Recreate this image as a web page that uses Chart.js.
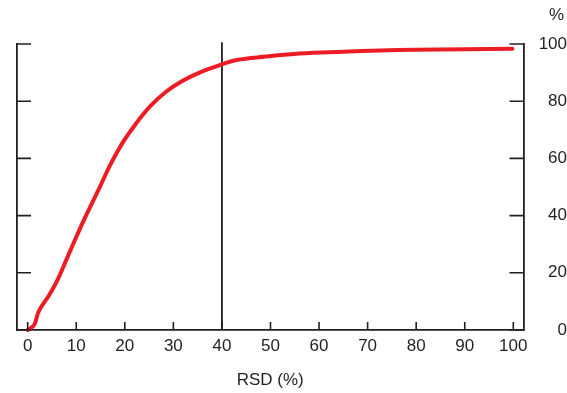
<!DOCTYPE html>
<html>
<head>
<meta charset="utf-8">
<script src="https://cdn.jsdelivr.net/npm/chart.js@4/dist/chart.umd.min.js"></script>
<style>
  html, body { margin: 0; padding: 0; background: #fff; }
  #wrap { width: 567px; height: 393px; position: relative; }
</style>
</head>
<body>
<div id="wrap"><canvas id="grafico" width="567" height="393"></canvas></div>
<script>
// curva acumulada (RSD x %)
const rsd = [0, 0.5, 1.4, 2.3, 4.5, 6.2, 8, 10.7, 12.8, 14.8, 16.9, 19.6, 22.4, 25.2, 28.5, 32, 35.5, 40, 43, 49, 56, 65, 72.5, 80, 90, 99.8];
const pct = [0, 0.5, 2, 6.6, 12.4, 17.7, 24.7, 35.2, 42.8, 49.8, 57.4, 65.6, 72.4, 78.2, 83.3, 87.2, 90.1, 92.9, 94.4, 95.6, 96.7, 97.3, 97.7, 98, 98.2, 98.3];
// linha vertical de corte
const corteX = [40, 40];
const corteY = [0, 100.6];
const xTicks = [0, 10, 20, 30, 40, 50, 60, 70, 80, 90, 100];
const yTicks = [0, 20, 40, 60, 80, 100];

const preto = '#231f20';

// ticks desenhados para dentro
const ticksDentro = {
    id: 'ticksDentro',
    afterDraw(chart) {
        const c = chart.ctx;
        const a = chart.chartArea;
        const sx = chart.scales.x;
        const sy = chart.scales.y;
        c.save();
        c.strokeStyle = preto;
        c.lineWidth = 1.6;
        c.beginPath();
        xTicks.forEach(v => {
            const px = sx.getPixelForValue(v);
            c.moveTo(px, a.bottom);
            c.lineTo(px, a.bottom - 8);
        });
        yTicks.forEach(v => {
            const py = sy.getPixelForValue(v);
            c.moveTo(a.left, py);
            c.lineTo(a.left + 14, py);
            c.moveTo(a.right, py);
            c.lineTo(a.right - 14, py);
        });
        c.stroke();
        c.restore();
    }
};

const ctx = document.getElementById('grafico').getContext('2d');
const grafico = new Chart(ctx, {
    type: 'line',
    data: {
        datasets: [{
            data: rsd.map((v, i) => ({ x: v, y: pct[i] })),
            borderColor: '#ec1c24',
            borderWidth: 4,
            pointRadius: 0,
            tension: 0.4,
            borderCapStyle: 'round',
            borderJoinStyle: 'round',
            clip: false
        }, {
            data: corteX.map((v, i) => ({ x: v, y: corteY[i] })),
            borderColor: preto,
            borderWidth: 1.8,
            pointRadius: 0,
            clip: false
        }]
    },
    options: {
        responsive: false,
        animation: false,
        layout: { padding: { top: 44, left: 0, right: 0, bottom: 0 } },
        plugins: {
            legend: { display: false },
            title: { display: false },
            tooltip: { enabled: false }
        },
        scales: {
            x: {
                type: 'linear',
                position: 'bottom',
                min: -2.2,
                max: 102.1,
                afterBuildTicks: s => { s.ticks = xTicks.map(v => ({ value: v })); },
                afterFit: s => { s.height = 63; },
                grid: { display: false, drawTicks: false },
                border: { display: true, color: preto, width: 1.8 },
                ticks: {
                    color: preto,
                    padding: 6,
                    maxRotation: 0,
                    font: { family: 'Liberation Sans, Arial, sans-serif', size: 17 }
                },
                title: {
                    display: true,
                    text: 'RSD (%)',
                    color: preto,
                    padding: { top: 0, bottom: 2 },
                    font: { family: 'Liberation Sans, Arial, sans-serif', size: 17 }
                }
            },
            yEsq: {
                type: 'linear',
                position: 'left',
                min: 0,
                max: 100,
                afterFit: s => { s.width = 17; },
                grid: { display: false, drawTicks: false },
                border: { display: true, color: preto, width: 1.8 },
                ticks: { display: false }
            },
            y: {
                type: 'linear',
                position: 'right',
                min: 0,
                max: 100,
                afterBuildTicks: s => { s.ticks = yTicks.map(v => ({ value: v })); },
                afterFit: s => { s.width = 567 - 523.5; },
                grid: { display: false, drawTicks: false },
                border: { display: true, color: preto, width: 1.8 },
                ticks: {
                    color: preto,
                    padding: 13,
                    crossAlign: 'far',
                    font: { family: 'Liberation Sans, Arial, sans-serif', size: 17 }
                }
            }
        }
    },
    plugins: [ticksDentro, {
        id: 'porcento',
        afterDraw(chart) {
            const c = chart.ctx;
            c.save();
            c.fillStyle = preto;
            c.font = '17px "Liberation Sans", Arial, sans-serif';
            c.textAlign = 'right';
            c.textBaseline = 'middle';
            c.fillText('%', 564, 15);
            c.restore();
        }
    }]
});
</script>
</body>
</html>
